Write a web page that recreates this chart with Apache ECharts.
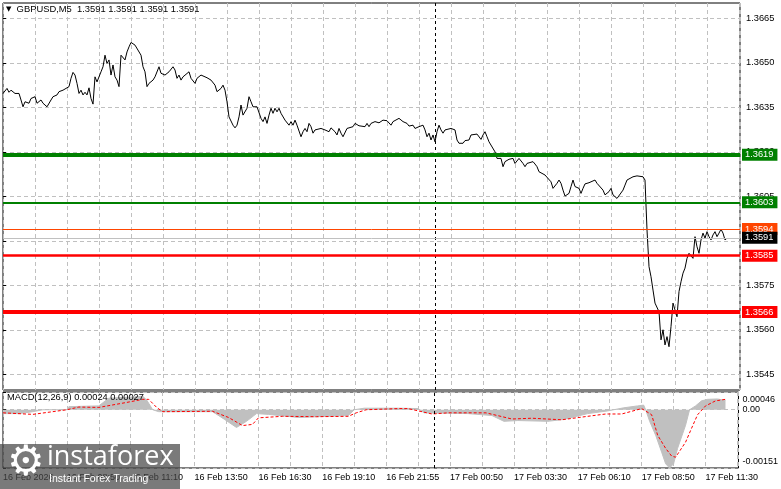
<!DOCTYPE html>
<html><head><meta charset="utf-8">
<script src="https://cdn.jsdelivr.net/npm/echarts@6/dist/echarts.min.js"></script>
<style>html,body{margin:0;padding:0;background:#fff}#c{width:781px;height:489px}</style>
</head><body><div id="c"></div>
<script>
// ---------- DATA ----------
const symbolName = 'GBPUSD,M5';
const lastOHLC = [1.3591, 1.3591, 1.3591, 1.3591];
const timeLabels = ['16 Feb 2026','16 Feb 08:50','16 Feb 11:10','16 Feb 13:50','16 Feb 16:30','16 Feb 19:10',
  '16 Feb 21:55','17 Feb 00:50','17 Feb 03:30','17 Feb 06:10','17 Feb 08:50','17 Feb 11:30'];
const barsPerLabel = 32;
const barsPerGrid = 16;
const totalBarsVisible = 368.5;
const priceTicks = [1.3545, 1.3560, 1.3575, 1.3590, 1.3605, 1.3620, 1.3635, 1.3650, 1.3665];
const priceMin = 1.35397, priceMax = 1.36702;
const levelValues = [1.3619, 1.3603, 1.3594, 1.3591, 1.3585, 1.3566];
const separatorBar = 216;
// [bar index, close]
const closes = [
[0,1.36397],[2,1.36414],[3,1.36401],[4,1.36408],[6,1.36397],[8,1.36397],[9,1.36375],[10,1.36352],[11,1.36369],[12,1.36375],[13,1.36364],[14,1.36380],[15,1.36375],[16,1.36386],[17,1.36364],[18,1.36358],[19,1.36375],[20,1.36364],[22,1.36352],[23,1.36358],[24,1.36375],[25,1.36386],[27,1.36392],[28,1.36403],[29,1.36397],[30,1.36408],[31,1.36405],[33,1.36420],[34,1.36448],[35,1.36468],[36,1.36459],[37,1.36431],[38,1.36397],[39,1.36408],[40,1.36392],[41,1.36401],[42,1.36392],[43,1.36416],[44,1.36380],[45,1.36361],[46,1.36453],[47,1.36436],[48,1.36431],[49,1.36470],[50,1.36487],[51,1.36526],[52,1.36498],[53,1.36510],[54,1.36459],[55,1.36493],[56,1.36453],[57,1.36442],[58,1.36420],[59,1.36526],[60,1.36521],[61,1.36510],[62,1.36537],[63,1.36554],[64,1.36569],[65,1.36569],[66,1.36560],[67,1.36554],[69,1.36526],[70,1.36487],[71,1.36470],[72,1.36420],[73,1.36431],[74,1.36428],[75,1.36442],[76,1.36453],[77,1.36448],[78,1.36487],[79,1.36465],[80,1.36470],[81,1.36459],[82,1.36465],[83,1.36470],[85,1.36487],[86,1.36476],[87,1.36448],[88,1.36459],[89,1.36442],[90,1.36453],[91,1.36450],[93,1.36470],
[94,1.36448],[96,1.36431],[97,1.36448],[98,1.36453],[99,1.36459],[100,1.36459],[102,1.36450],[103,1.36453],[104,1.36442],[106,1.36425],[107,1.36403],[108,1.36408],[109,1.36414],[110,1.36425],[111,1.36408],[112,1.36369],[113,1.36318],[114,1.36313],[115,1.36290],[116,1.36281],[117,1.36290],[118,1.36318],[119,1.36358],[120,1.36324],[121,1.36327],[122,1.36347],[123,1.36386],[124,1.36369],[125,1.36352],[126,1.36358],[127,1.36352],[128,1.36358],[129,1.36313],[130,1.36302],[131,1.36318],[132,1.36296],[133,1.36324],[134,1.36347],[135,1.36330],[136,1.36347],[137,1.36335],[138,1.36347],[139,1.36330],[141,1.36307],[142,1.36313],[143,1.36290],[144,1.36302],[145,1.36290],[146,1.36307],[147,1.36290],[148,1.36285],[149,1.36251],[150,1.36268],[151,1.36279],[152,1.36268],[153,1.36296],[154,1.36285],[155,1.36263],[156,1.36274],[157,1.36268],[159,1.36279],[161,1.36274],[163,1.36268],[164,1.36281],[166,1.36268],[167,1.36257],[168,1.36279],[169,1.36263],[170,1.36251],[172,1.36279],[173,1.36285],[175,1.36285],[176,1.36296],[178,1.36288],[179,1.36290],[181,1.36285],[182,1.36296],[183,1.36285],[184,1.36296],[186,1.36302],
[187,1.36307],[188,1.36298],[190,1.36307],[192,1.36305],[193,1.36302],[194,1.36290],[195,1.36302],[196,1.36307],[198,1.36313],[199,1.36318],[200,1.36302],[201,1.36307],[202,1.36296],[203,1.36287],[205,1.36290],[206,1.36279],[208,1.36285],[209,1.36285],[210,1.36290],[211,1.36274],[212,1.36251],[213,1.36263],[214,1.36240],[215,1.36257],[216,1.36234],[217,1.36268],[218,1.36290],[219,1.36274],[220,1.36263],[221,1.36274],[222,1.36279],[224,1.36279],[225,1.36276],[226,1.36274],[227,1.36240],[228,1.36229],[229,1.36234],[230,1.36229],[231,1.36238],[233,1.36240],[234,1.36257],[235,1.36257],[237,1.36260],[238,1.36257],[239,1.36242],[240,1.36257],[241,1.36268],[242,1.36251],[243,1.36234],[244,1.36229],[246,1.36200],[247,1.36178],[248,1.36184],[249,1.36178],[250,1.36150],[251,1.36167],[252,1.36161],[253,1.36175],[254,1.36173],[255,1.36178],[256,1.36161],[258,1.36178],[259,1.36173],[260,1.36161],[261,1.36150],[262,1.36161],[263,1.36156],[265,1.36167],[266,1.36159],[267,1.36150],[268,1.36133],[269,1.36128],[271,1.36122],[272,1.36128],[274,1.36099],[275,1.36077],[276,1.36083],
[277,1.36094],[278,1.36105],[279,1.36094],[280,1.36071],[281,1.36051],[283,1.36060],[284,1.36083],[285,1.36105],[286,1.36083],[288,1.36077],[289,1.36060],[290,1.36077],[291,1.36092],[292,1.36088],[293,1.36096],[294,1.36094],[296,1.36105],[297,1.36094],[298,1.36088],[300,1.36071],[301,1.36055],[302,1.36060],[303,1.36066],[304,1.36077],[305,1.36055],[306,1.36049],[307,1.36043],[308,1.36049],[310,1.36071],[311,1.36088],[312,1.36105],[313,1.36099],[315,1.36116],[316,1.36111],[317,1.36119],[318,1.36119],[320,1.36116],[321,1.36105],
[322,1.35937],[323,1.35813],[324,1.35779],[325,1.35734],[326,1.35690],[327,1.35695],[328,1.35661],[329,1.35566],[330,1.35600],[331,1.35549],[332,1.35577],[333,1.35543],[334,1.35611],[335,1.35690],[336,1.35667],[337,1.35644],[338,1.35729],[339,1.35762],[340,1.35791],[341,1.35808],[342,1.35841],[343,1.35858],[344,1.35864],[345,1.35841],[346,1.35914],[347,1.35880],[348,1.35858],[349,1.35903],[350,1.35926],[351,1.35909],[352,1.35931],[353,1.35914],[354,1.35903],[355,1.35920],[356,1.35931],[357,1.35914],[358,1.35926],[359,1.35939],[360,1.35926],[361,1.35903],[362,1.35909]
];
const macdHist = [[0,-0.0001],[8,-0.0001],[15,-0.00005],[20,0],[32,0],[33,0.00008],[48,0.0001],[53,0.0003],[65,0.00033],[70,0.00035],[72,0.00025],[75,0],[78,-0.00005],[105,-0.00005],[111,-0.00025],[117,-0.00046],[122,-0.0003],[127,-0.0001],[133,-0.00012],[148,-0.0002],[173,-0.00015],[176,0],[181,0.00004],[198,0.00004],[208,0.00003],[211,-0.00008],[233,-0.0001],[245,-0.00015],[251,-0.0003],[258,-0.00028],[273,-0.0003],[281,-0.00025],[293,-0.0001],[303,-0.00003],[311,0.00005],[318,0.0001],[321,0.00012],[322,0],[324,-0.0003],[327,-0.00066],[330,-0.0011],[332,-0.0014],[334,-0.00151],[336,-0.0014],[338,-0.001],[342,-0.0004],[344,0],[347,0.0001],[350,0.00023],[353,0.00027],[358,0.00028],[362,0.00024]];
const macdSignal = [[0,-0.00008],[15,-0.00012],[32,0],[38,0.00007],[48,0.00006],[62,0.00019],[70,0.00027],[73,0.00027],[77,0.00006],[80,-0.00005],[105,-0.00004],[113,-0.0002],[120,-0.00041],[125,-0.00038],[128,-0.00021],[140,-0.00017],[157,-0.00018],[173,-0.00017],[177,-0.00008],[182,0],[198,0.00003],[203,0.00003],[215,-0.00011],[223,-0.00008],[242,-0.00008],[255,-0.00024],[265,-0.00022],[280,-0.00026],[293,-0.00017],[302,-0.00011],[310,-0.00011],[320,0.00003],[325,-0.00013],[328,-0.00066],[332,-0.001],[335,-0.0012],[337,-0.00123],[342,-0.00084],[345,-0.00048],[348,-0.00013],[352,0.0001],[357,0.00023],[362,0.00027]];
const macdTicks = [-0.00151, 0, 0.00046];
const macdParams = '12,26,9';

// ---------- STYLES ----------
const FONT = '"Liberation Sans", Arial, sans-serif';
const levelStyles = [
  {color:'#008000', width:4, box:'#008000'},
  {color:'#008000', width:2, box:'#008000'},
  {color:'#FF4500', width:1, box:'#FF4500'},
  {color:'#C0C0C0', width:1, box:'#000000'},
  {color:'#FF0000', width:2.5, box:'#FF0000'},
  {color:'#FF0000', width:4, box:'#FF0000'}
];
const gridDash = {color:'#C0C0C0', type:[4,3], width:1};

const labelTicks = timeLabels.map((_, k) => k * barsPerLabel);
const fmtMacd = v => v === 0 ? '0.00' : v.toFixed(5);

const chart = echarts.init(document.getElementById('c'), null, {renderer:'canvas'});
chart.setOption({
  animation: false,
  backgroundColor: '#fff',
  title: [
    {text: '{tri|▼}  ' + symbolName + '  ' + lastOHLC.map(v => v.toFixed(4)).join(' '),
     left: 6, top: 5, padding: 0,
     textStyle: {fontSize: 9.4, fontWeight: 'normal', color: '#000', fontFamily: FONT,
       rich: {tri: {fontSize: 7, color: '#000', fontFamily: 'DejaVu Sans'}}}},
    {text: 'MACD(' + macdParams + ') ' + macdHist[macdHist.length-1][1].toFixed(5) + ' ' + macdSignal[macdSignal.length-1][1].toFixed(5),
     left: 7, top: 393, padding: 0,
     textStyle: {fontSize: 9.3, fontWeight: 'normal', color: '#000', fontFamily: FONT}}
  ],
  grid: [
    {left: 3, right: 41, top: 3, height: 387, show: true, borderColor: '#000', borderWidth: 1, backgroundColor: 'transparent'},
    {left: 3, right: 41, top: 392, height: 76, show: true, borderColor: '#000', borderWidth: 1, backgroundColor: 'transparent'}
  ],
  xAxis: [
    {type: 'value', gridIndex: 0, min: 0, max: totalBarsVisible, interval: barsPerGrid,
     axisLine: {show: false}, axisTick: {show: false}, axisLabel: {show: false},
     splitLine: {show: true, lineStyle: gridDash}},
    {type: 'value', gridIndex: 1, min: 0, max: totalBarsVisible, interval: barsPerGrid,
     axisLine: {show: false}, axisTick: {show: false},
     axisLabel: {show: true, customValues: labelTicks, align: 'left', margin: 5,
       fontSize: 9, color: '#000', fontFamily: FONT,
       formatter: v => timeLabels[Math.round(v / barsPerLabel)] || ''},
     splitLine: {show: true, lineStyle: gridDash}}
  ],
  yAxis: [
    {type: 'value', gridIndex: 0, position: 'right', min: priceMin, max: priceMax, scale: true,
     axisLine: {show: false},
     axisTick: {show: true, length: 3, customValues: priceTicks, lineStyle: {color: '#000'}},
     axisLabel: {show: true, customValues: priceTicks, margin: 6, fontSize: 9.3, color: '#000', fontFamily: FONT,
       formatter: v => v.toFixed(4)},
     splitLine: {show: true, lineStyle: gridDash}},
    {type: 'value', gridIndex: 1, position: 'right', min: macdTicks[0], max: macdTicks[2],
     axisLine: {show: false},
     axisTick: {show: true, length: 3, customValues: macdTicks, lineStyle: {color: '#000'}},
     axisLabel: {show: true, customValues: macdTicks, margin: 4, fontSize: 9, color: '#000', fontFamily: FONT,
       formatter: v => v > 0 ? '{t|' + fmtMacd(v) + '}' : (v < 0 ? '{b|' + fmtMacd(v) + '}' : fmtMacd(v)),
       rich: {t: {padding: [16,0,0,0], fontSize: 9, fontFamily: FONT, color: '#000'},
              b: {padding: [0,0,12,0], fontSize: 9, fontFamily: FONT, color: '#000'}}},
     splitLine: {show: true, lineStyle: gridDash}}
  ],
  series: [
    {type: 'line', name: 'close', xAxisIndex: 0, yAxisIndex: 0, data: closes, showSymbol: false,
     lineStyle: {color: '#000', width: 1}, z: 3, silent: true,
     markLine: {silent: true, symbol: ['none','none'], label: {show: false},
       lineStyle: {color: '#000', type: [3,3], width: 1},
       data: [{xAxis: separatorBar}]}},
    {type: 'line', name: 'levels', xAxisIndex: 0, yAxisIndex: 0, data: closes, z: 5, silent: true,
     showSymbol: false, lineStyle: {opacity: 0, width: 0},
     markLine: {silent: true, symbol: ['none','none'], precision: 5,
       data: levelValues.map((v, i) => ({
         yAxis: v,
         lineStyle: {color: levelStyles[i].color, width: levelStyles[i].width, type: 'solid'},
         label: {show: true, position: 'end', distance: 2, formatter: v.toFixed(4),
           color: '#fff', backgroundColor: levelStyles[i].box, padding: [2,4,1,3],
           fontSize: 9.3, fontFamily: FONT}
       }))}},
    {type: 'line', name: 'macd', xAxisIndex: 1, yAxisIndex: 1, data: macdHist, showSymbol: false,
     lineStyle: {color: '#C0C0C0', width: 1}, areaStyle: {color: '#C0C0C0', opacity: 1, origin: 0}, z: 2, silent: true,
     markLine: {silent: true, symbol: ['none','none'], label: {show: false},
       lineStyle: {color: '#000', type: [3,3], width: 1},
       data: [{xAxis: separatorBar}]}},
    {type: 'line', name: 'signal', xAxisIndex: 1, yAxisIndex: 1, data: macdSignal, showSymbol: false,
     lineStyle: {color: '#FF0000', width: 1, type: [3,2]}, z: 3, silent: true}
  ],
  graphic: [
    {type: 'rect', left: 0, top: 444, z: 100, shape: {width: 180, height: 45}, style: {fill: 'rgba(70,70,70,0.72)'}},
    {type: 'text', left: 7, top: 443, z: 101, style: {text: '\u2699', fontSize: 42, fill: '#fff', fontFamily: 'DejaVu Sans'}},
    {type: 'text', left: 47, top: 444, z: 101, style: {text: 'instaforex', fontSize: 27, fill: '#fff', fontFamily: '"Open Sans", sans-serif'}},
    {type: 'text', left: 49, top: 474, z: 101, style: {text: 'Instant Forex Trading', fontSize: 10.5, fill: '#fff', fontFamily: FONT}}
  ]
});
</script></body></html>
